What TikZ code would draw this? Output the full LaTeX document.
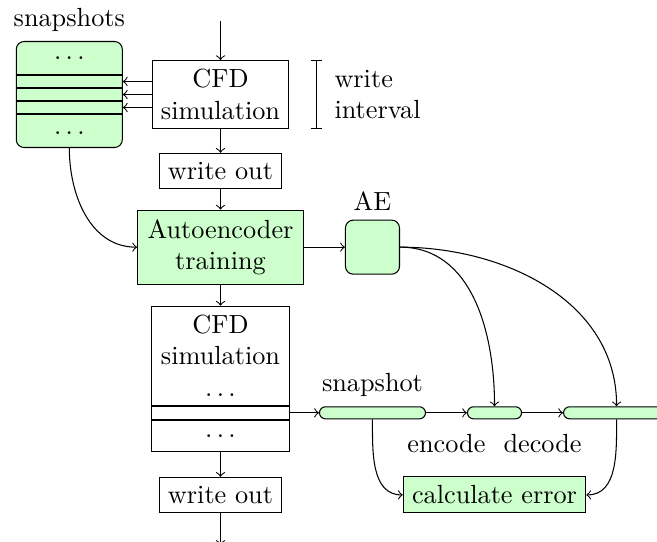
\documentclass[tikz,border=0pt]{standalone}
\usetikzlibrary{calc}
\usetikzlibrary{positioning}

\begin{document}
\begin{tikzpicture}[x=0.381pt, y=0.381pt,
    box/.style={draw, align=center},
    greenbox/.style={draw, fill=green!20, align=center},
    store/.style={draw, fill=green!20, rounded corners=3pt},
    pill/.style={draw, fill=green!20, rounded corners=2.3pt,
      inner sep=0, minimum height=4.6pt, minimum width=40.4pt}
  ]
  \useasboundingbox (0,0) rectangle (657,-541);

  % upper simulation and snapshot store
  \node[box] (cfdA) at (220.5,-94.5) {CFD\\simulation};
  \node[store, minimum size=40.4pt, left=11pt of cfdA,
    label={above:snapshots}] (snaps) {};
  \foreach \dy in {-19.5,-6.5,6.5,19.5}
    \draw ($(snaps.west)+(0,\dy)$) -- ($(snaps.east)+(0,\dy)$);
  \node at ($(snaps.north)!0.16!(snaps.south)$) {$\ldots$};
  \node at ($(snaps.north)!0.86!(snaps.south)$) {$\ldots$};

  \coordinate (wiTop) at ($(cfdA.north east)+(10.5pt,0)$);
  \coordinate (wiBot) at ($(cfdA.south east)+(10.5pt,0)$);
  \draw ([xshift=-2.1pt]wiTop) -- ([xshift=2.1pt]wiTop)
    (wiTop) -- (wiBot)
    ([xshift=-2.1pt]wiBot) -- ([xshift=2.1pt]wiBot);
  \node[align=left, right=3.2pt of {$(wiTop)!0.5!(wiBot)$}] (interval) {write\\interval};

  \node[box, below=9.1pt of cfdA] (writeA) {write out};
  \node[greenbox, minimum width=63.2pt, minimum height=28.2pt,
    below=7.9pt of writeA] (train) {Autoencoder\\training};
  \node[store, minimum size=20.6pt, right=15.6pt of train,
    label={above:AE}] (ae) {};

  % lower simulation
  \node[box, minimum width=52.6pt, below=8pt of train] (cfdB) {CFD\\simulation\\$\ldots$};
  \node[draw, inner sep=0, minimum width=52.6pt, minimum height=5pt,
    below=0pt of cfdB] (rowB) {};
  \node[draw, minimum width=52.6pt, minimum height=11.8pt,
    below=0pt of rowB] (dotsB) {$\ldots$};
  \node[box, below=9.5pt of dotsB] (writeB) {write out};

  \node[pill, right=11pt of rowB, label={above:snapshot}] (snap) {};
  \node[pill, minimum width=20.6pt, right=15.6pt of snap] (enc) {};
  \node[pill, right=15.6pt of enc] (dec) {};
  \node[greenbox] (calc) at (enc |- writeB) {calculate error};

  \coordinate (start) at ($(cfdA.north)+(0,39)$);
  \coordinate (end) at ($(writeB.south)+(0,-32)$);

  \draw[->] (start) -- (cfdA);
  \foreach \dy in {-13,0,13}
    \draw[->] ($(cfdA.west)+(0,\dy)$) -- ($(snaps.east)+(0,\dy)$);
  \draw[->] (cfdA) -- (writeA);
  \draw[->] (writeA) -- (train);
  \draw[->] (snaps.south) to[out=270,in=180] (train.west);
  \draw[->] (train) -- (ae);
  \draw[->] (train) -- (cfdB);
  \draw[->] (dotsB) -- (writeB);
  \draw[->] (writeB) -- (end);

  \draw[->] (rowB) -- (snap);
  \draw[->] (snap) -- node[below=4.5pt] {encode} (enc);
  \draw[->] (enc) -- node[below=4.5pt] {decode} (dec);
  \draw[->] (ae.east) to[out=0,in=90] (enc.north);
  \draw[->] (ae.east) to[out=0,in=90] (dec.north);
  \draw[->] (snap.south) to[out=270,in=180] (calc.west);
  \draw[->] (dec.south) to[out=270,in=0] (calc.east);
\end{tikzpicture}
\end{document}
